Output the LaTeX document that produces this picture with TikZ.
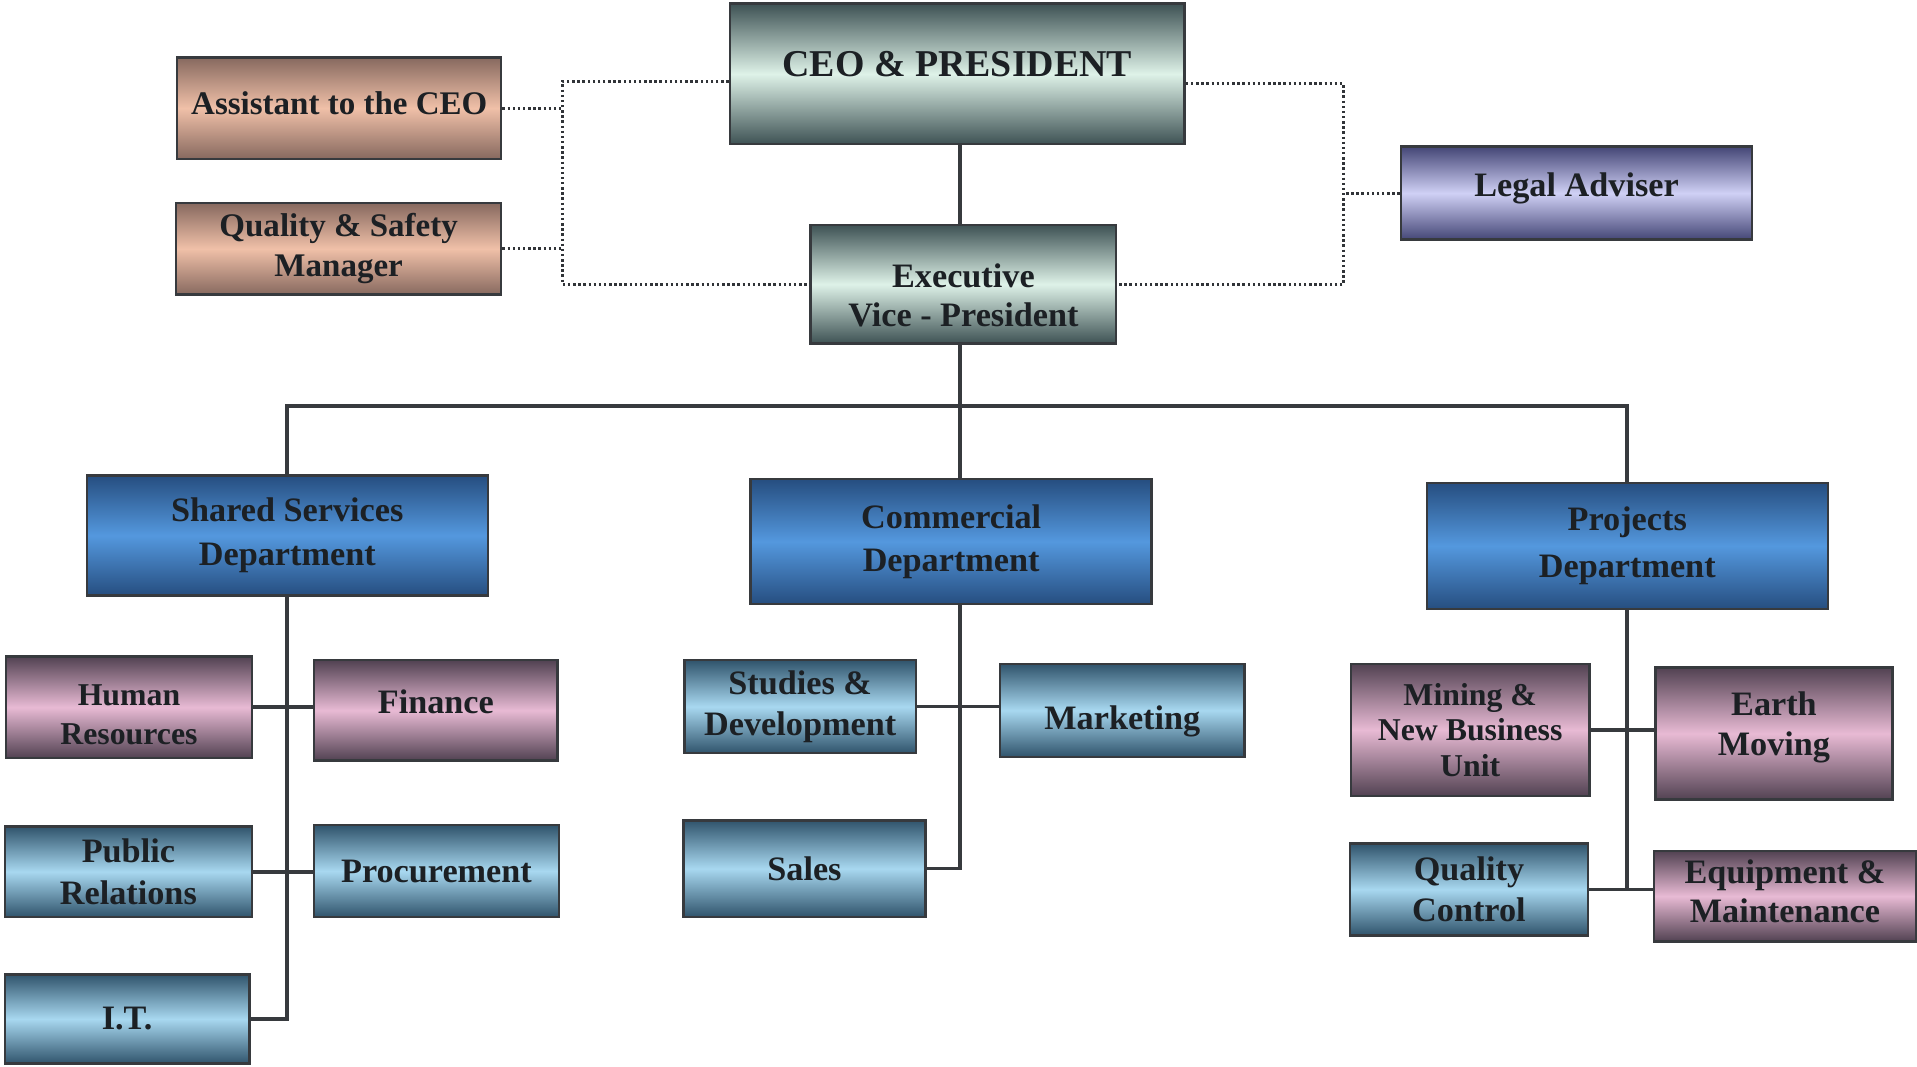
\documentclass[tikz,border=0pt]{standalone}
\usepackage{fontspec}
\setmainfont{Liberation Serif}
\usetikzlibrary{calc}
\newcommand\mvtxt[2]{\raisebox{#1}[\height][\depth]{#2}}
\definecolor{ceoDark}{RGB}{62,82,84}
\definecolor{ceoLight}{RGB}{222,242,232}
\definecolor{salDark}{RGB}{135,105,95}
\definecolor{salLight}{RGB}{240,192,168}
\definecolor{legDark}{RGB}{68,70,118}
\definecolor{legLight}{RGB}{208,208,245}
\definecolor{depDark}{RGB}{38,78,128}
\definecolor{depLight}{RGB}{84,152,222}
\definecolor{lbDark}{RGB}{48,84,108}
\definecolor{lbLight}{RGB}{168,216,240}
\definecolor{pkDark}{RGB}{82,66,82}
\definecolor{pkLight}{RGB}{232,186,212}
\definecolor{txt}{RGB}{28,32,36}
\definecolor{edge}{RGB}{55,58,62}
\tikzset{
  x=1pt, y=-1pt,
  boxbase/.style={draw=edge, line width=2pt, align=center, inner sep=2pt,
    text=txt, font=\bfseries\fontsize{28}{34}\selectfont},
  ceobox/.style={boxbase, top color=ceoDark, bottom color=ceoDark, middle color=ceoLight},
  salbox/.style={boxbase, top color=salDark, bottom color=salDark, middle color=salLight,
    font=\bfseries\fontsize{27}{33}\selectfont},
  legbox/.style={boxbase, top color=legDark, bottom color=legDark, middle color=legLight},
  depbox/.style={boxbase, top color=depDark, bottom color=depDark, middle color=depLight},
  lbbox/.style={boxbase, top color=lbDark, bottom color=lbDark, middle color=lbLight},
  pkbox/.style={boxbase, top color=pkDark, bottom color=pkDark, middle color=pkLight},
  solidline/.style={draw=edge, line width=3pt},
  dotline/.style={draw=edge!90!black, line width=2.4pt, dash pattern=on 2pt off 2.2pt}
}
\begin{document}
\begin{tikzpicture}
\useasboundingbox (0,0) rectangle (1568,872);
% top level
\node[ceobox, minimum width=372pt, minimum height=115pt, font=\bfseries\fontsize{31}{36}\selectfont] (ceo) at (783,60.5) {\mvtxt{8pt}{CEO \& PRESIDENT}};
\node[salbox, minimum width=265pt, minimum height=83pt] (asst) at (277.5,88.5) {\mvtxt{4pt}{Assistant to the CEO}};
\node[salbox, minimum width=266pt, minimum height=75pt] (qs) at (277,203.5) {Quality \& Safety\\Manager};
\node[legbox, minimum width=287pt, minimum height=76pt] (legal) at (1289.5,158) {\mvtxt{4pt}{Legal Adviser}};
\node[ceobox, minimum width=250pt, minimum height=97pt, font=\bfseries\fontsize{28}{32}\selectfont] (evp) at (788,232.5) {\mvtxt{-9pt}{Executive}\\\mvtxt{-9pt}{Vice - President}};
% departments
\node[depbox, minimum width=328pt, minimum height=98pt, font=\bfseries\fontsize{28}{36}\selectfont] (shared) at (235,438) {Shared Services\\Department};
\node[depbox, minimum width=328pt, minimum height=102pt, font=\bfseries\fontsize{28}{35}\selectfont] (comm) at (778,443) {Commercial\\Department};
\node[depbox, minimum width=328pt, minimum height=103pt, font=\bfseries\fontsize{28}{39}\selectfont] (proj) at (1331,446.5) {Projects\\Department};
% shared services children
\node[pkbox, minimum width=201pt, minimum height=83pt, font=\bfseries\fontsize{26}{32}\selectfont] (hr) at (105.5,578.5) {\mvtxt{-6pt}{Human}\\\mvtxt{-6pt}{Resources}};
\node[pkbox, minimum width=199pt, minimum height=82pt] (fin) at (356.5,581) {\mvtxt{7pt}{Finance}};
\node[lbbox, minimum width=202pt, minimum height=74pt] (pr) at (105,713) {Public\\Relations};
\node[lbbox, minimum width=200pt, minimum height=75pt] (proc) at (357,712.5) {Procurement};
\node[lbbox, minimum width=200pt, minimum height=73pt] (it) at (104,833.5) {I.T.};
% commercial children
\node[lbbox, minimum width=189pt, minimum height=76pt] (sd) at (654.5,578) {Studies \&\\Development};
\node[lbbox, minimum width=200pt, minimum height=76pt] (mkt) at (918,581) {\mvtxt{-9pt}{Marketing}};
\node[lbbox, minimum width=198pt, minimum height=79pt] (sales) at (658,710.5) {Sales};
% projects children
\node[pkbox, minimum width=195pt, minimum height=108pt, font=\bfseries\fontsize{26}{29}\selectfont] (mining) at (1202.5,597) {Mining \&\\New Business\\Unit};
\node[pkbox, minimum width=194pt, minimum height=108pt, font=\bfseries\fontsize{28}{33}\selectfont] (earth) at (1451,600) {\mvtxt{5pt}{Earth}\\\mvtxt{5pt}{Moving}};
\node[lbbox, minimum width=195pt, minimum height=75pt] (qc) at (1201.5,727.5) {Quality\\Control};
\node[pkbox, minimum width=214pt, minimum height=74pt, font=\bfseries\fontsize{28}{32}\selectfont] (equip) at (1460,733) {\mvtxt{4pt}{Equipment \&}\\\mvtxt{4pt}{Maintenance}};
% helper coordinates
\coordinate (lx) at (460,0);
\coordinate (rx) at (1099,0);
\coordinate (busy) at (0,332);
\coordinate (cx) at (785,0);
% dotted staff lines
\draw[dotline] ([yshift=-6pt]ceo.west) -- ([yshift=-6pt]ceo.west -| lx) -- (lx |- evp.west) -- (evp.west);
\draw[dotline] (asst.east) -- (asst.east -| lx);
\draw[dotline] (qs.east) -- (qs.east -| lx);
\draw[dotline] ([yshift=-8pt]ceo.east) -- ([yshift=-8pt]ceo.east -| rx) -- (rx |- evp.east) -- (evp.east);
\draw[dotline] (legal.west) -- (legal.west -| rx);
% solid lines
\draw[solidline] (cx |- ceo.south) -- (cx |- evp.north);
\draw[solidline] (cx |- evp.south) -- (cx |- comm.north);
\draw[solidline] (shared.north) -- (shared.north |- busy) -- (proj.north |- busy) -- (proj.north);
\draw[solidline] (shared.south) -- (shared.south |- it.east) -- (it.east);
\draw[solidline] (hr.east) -- (hr.east -| fin.west);
\draw[solidline] (pr.east) -- (pr.east -| proc.west);
\draw[solidline] (cx |- comm.south) -- (cx |- sales.east) -- (sales.east);
\draw[solidline] (sd.east) -- (sd.east -| mkt.west);
\draw[solidline] (proj.south) -- (proj.south |- qc.east);
\draw[solidline] (mining.east) -- (mining.east -| earth.west);
\draw[solidline] (qc.east) -- (qc.east -| equip.west);
\end{tikzpicture}
\end{document}
